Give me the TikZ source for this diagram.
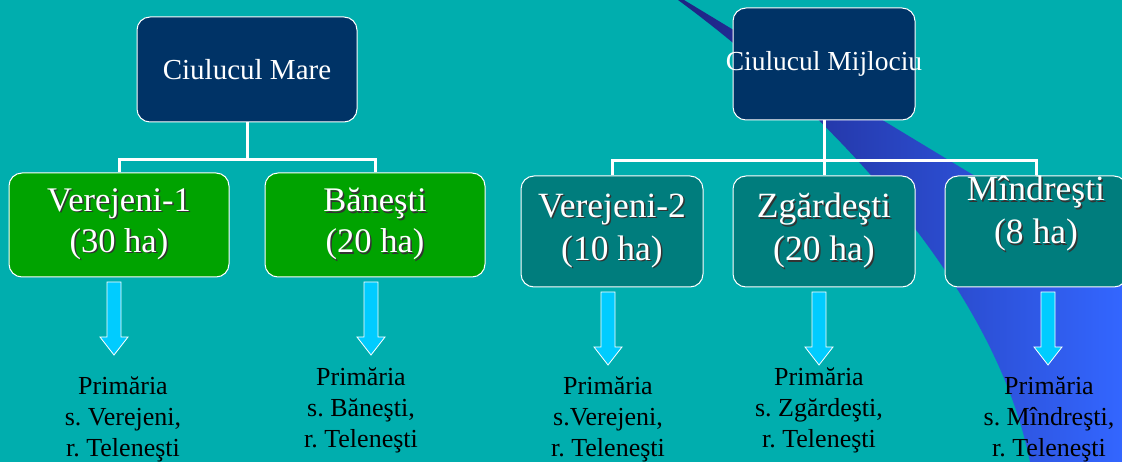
\documentclass[tikz,border=0pt]{standalone}
\usepackage{fontspec}
\setmainfont{Liberation Serif}
\usepackage{tikz}
\frenchspacing

\definecolor{bgteal}{RGB}{0,174,174}
\definecolor{navybox}{RGB}{0,51,102}
\definecolor{greenbox}{RGB}{0,163,0}
\definecolor{tealbox}{RGB}{0,125,125}
\definecolor{arrcyan}{RGB}{0,204,255}
\definecolor{stripedark}{RGB}{30,35,130}
\definecolor{stripelight}{RGB}{51,102,255}

% white box text with a dark drop shadow
\newcommand{\shd}[1]{\makebox[0pt][l]{\kern1.5pt\raisebox{-1.5pt}{\color{black!80}#1}}#1}

\begin{document}
\begin{tikzpicture}[x=1pt,y=-1pt,
    box/.style={draw=white,line width=1pt,rounded corners=13pt,inner sep=0pt,
      align=center,text=white},
    topbox/.style={box,fill=navybox},
    leftbox/.style={box,fill=greenbox,minimum width=220pt,minimum height=104pt,
      font=\fontsize{34.5}{41}\selectfont},
    rightbox/.style={box,fill=tealbox,minimum width=182pt,minimum height=111pt,
      font=\fontsize{35.5}{43}\selectfont},
    conn/.style={draw=white,line width=3pt},
    place/.style={align=center,inner sep=0pt,text=black,
      font=\fontsize{26}{31}\selectfont},
    blockarr/.pic={\draw[fill=arrcyan,draw=white,line width=0.8pt]
      (-7,0) -- (7,0) -- (7,55) -- (14,55) -- (0,73) -- (-14,55) -- (-7,55) -- cycle;}]

    % Background
    \fill[bgteal] (0,0) rectangle (1122,462);
    \useasboundingbox (0,0) rectangle (1122,462);

    % Blue swoosh behind the right tree
    \shade[left color=stripedark,right color=stripelight]
      (678,0) -- (684,0) -- (1122,265) -- (1122,462) -- (1030,462)
      .. controls (990,262) and (790,82) .. (678,0) -- cycle;

    % Top boxes
    \node[topbox,minimum width=220pt,minimum height=105pt,
      font=\fontsize{29}{34}\selectfont] (mare) at (247,69.5) {Ciulucul Mare};
    \node[topbox,minimum width=182pt,minimum height=112pt,
      font=\fontsize{27.5}{33}\selectfont] (mijl) at (824,64)
      {\makebox[0pt]{Ciulucul Mijlociu}};

    % Plots under Ciulucul Mare
    \foreach \n/\x/\t in {ver1/119/{\shd{Verejeni-1}\\\shd{(30 ha)}},
                          ban/375/{\shd{Băneşti}\\\shd{(20 ha)}}} {
      \node[leftbox] (\n) at (\x,225) {\t};
    }

    % Plots under Ciulucul Mijlociu
    \foreach \n/\x/\t in {ver2/612/{\shd{Verejeni-2}\\\shd{(10 ha)}},
                          zga/824/{\shd{Zgărdeşti}\\\shd{(20 ha)}},
                          mind/1036/{\shd{Mîndreşti}\\\shd{(8 ha)}\\~}} {
      \node[rightbox] (\n) at (\x,231.5) {\t};
    }

    % Tree lines
    \draw[conn] (mare.south) -- ++(0,37) coordinate (j1);
    \draw[conn] (ver1.north) |- (j1) -| (ban.north);
    \draw[conn] (mijl.south) -- ++(0,40) coordinate (j2);
    \draw[conn] (ver2.north) |- (j2) -| (mind.north);
    \draw[conn] (j2) -- (zga.north);

    % Down arrows
    \foreach \x/\y in {114/282,371/282,608/292,819/292,1048/292} {
      \pic at (\x,\y) {blockarr};
    }

    % Town halls
    \foreach \i/\x/\y/\t in {1/123/419.6/{Primăria\\s. Verejeni,\\r. Teleneşti},
                             2/361/410.6/{Primăria\\s. Băneşti,\\r. Teleneşti},
                             3/608/419.6/{Primăria\\s.Verejeni,\\r. Teleneşti},
                             4/819/410.6/{Primăria\\s. Zgărdeşti,\\r. Teleneşti},
                             5/1049/419.6/{Primăria\\s. Mîndreşti,\\r. Teleneşti}} {
      \node[place] (p\i) at (\x,\y) {\t};
    }

\end{tikzpicture}
\end{document}
